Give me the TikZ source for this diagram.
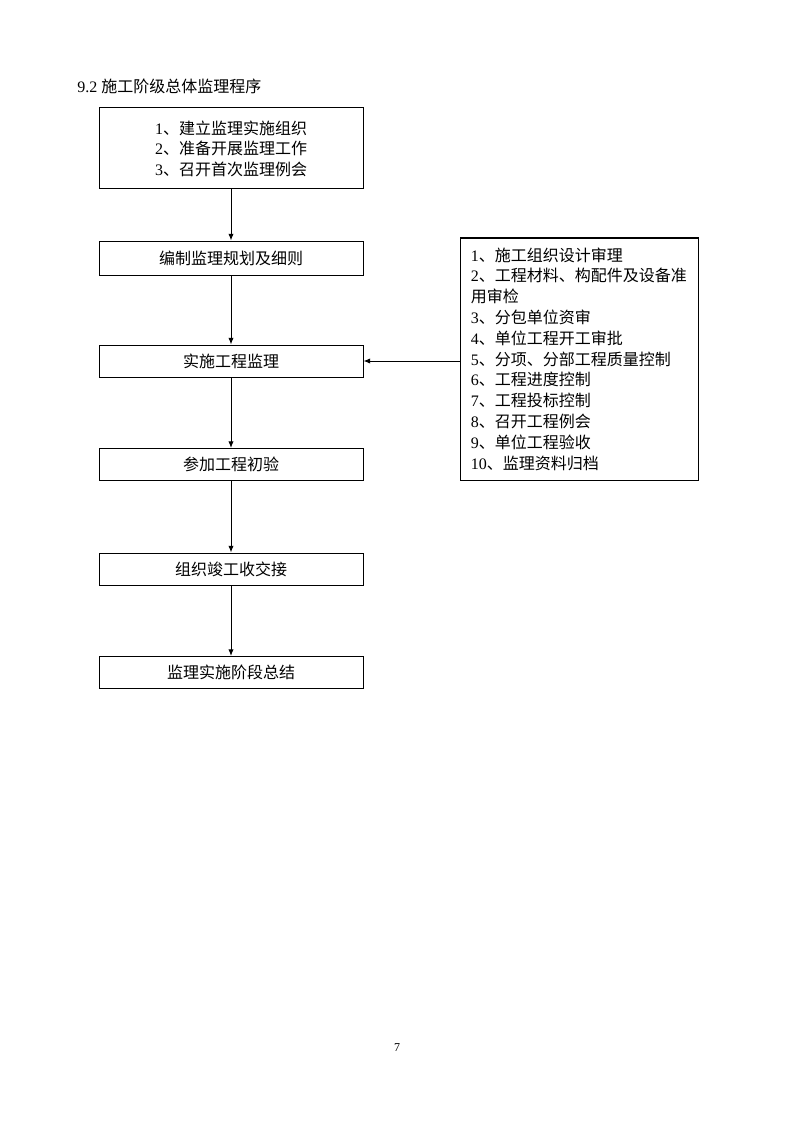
\documentclass[tikz,border=0pt]{standalone}
\usepackage{fontspec}
\setmainfont{Liberation Serif}
\newfontfamily\cjk{Noto Sans CJK SC}
\newcommand\zh[1]{{\cjk #1}}
\usetikzlibrary{arrows.meta}

\begin{document}
\begin{tikzpicture}[x=0.75pt,y=-0.75pt]
\tikzset{kuang/.style={draw, line width=0.75pt, minimum width=198pt, minimum height=24pt, inner sep=2pt, align=center, font=\fontsize{12pt}{15.4pt}\selectfont}}
\tikzset{jiantou/.style={-{Latex[length=5pt,width=4pt]}, line width=0.75pt}}
\useasboundingbox (0,0) rectangle (794,1123);
\node[anchor=base west, inner sep=0pt, font=\fontsize{12pt}{14pt}\selectfont] (biaoti) at (77,93) {9.2 \zh{施工阶级总体监理程序}};
\node[kuang, minimum height=60.75pt] (zuzhi) at (231,148.5) {1\zh{、建立监理实施组织}\\2\zh{、准备开展监理工作}\\3\zh{、召开首次监理例会}};
\node[kuang, minimum height=25.5pt] (guihua) at (231,258) {\zh{编制监理规划及细则}};
\node[kuang] (shishi) at (231,361) {\zh{实施工程监理}};
\node[kuang] (chuyan) at (231,464.5) {\zh{参加工程初验}};
\node[kuang] (jiaojie) at (231,569) {\zh{组织竣工收交接}};
\node[kuang] (zongjie) at (231,672.5) {\zh{监理实施阶段总结}};
\node[draw, line width=0.75pt, minimum height=181.5pt, text width=163pt, inner xsep=8pt, align=left, font=\fontsize{12pt}{15.6pt}\selectfont] (neirong) at (579.5,359) {1\zh{、施工组织设计审理}\\2\zh{、工程材料、构配件及设备准}\\\zh{用审检}\\3\zh{、分包单位资审}\\4\zh{、单位工程开工审批}\\5\zh{、分项、分部工程质量控制}\\6\zh{、工程进度控制}\\7\zh{、工程投标控制}\\8\zh{、召开工程例会}\\9\zh{、单位工程验收}\\10\zh{、监理资料归档}};
\node[font=\fontsize{9pt}{10pt}\selectfont] (yema) at (397,1048) {7};
% liucheng
\draw[jiantou] (zuzhi) -- (guihua);
\draw[jiantou] (guihua) -- (shishi);
\draw[jiantou] (shishi) -- (chuyan);
\draw[jiantou] (chuyan) -- (jiaojie);
\draw[jiantou] (jiaojie) -- (zongjie);
\draw[jiantou] (neirong.west |- shishi.east) -- (shishi.east);
\end{tikzpicture}
\end{document}
